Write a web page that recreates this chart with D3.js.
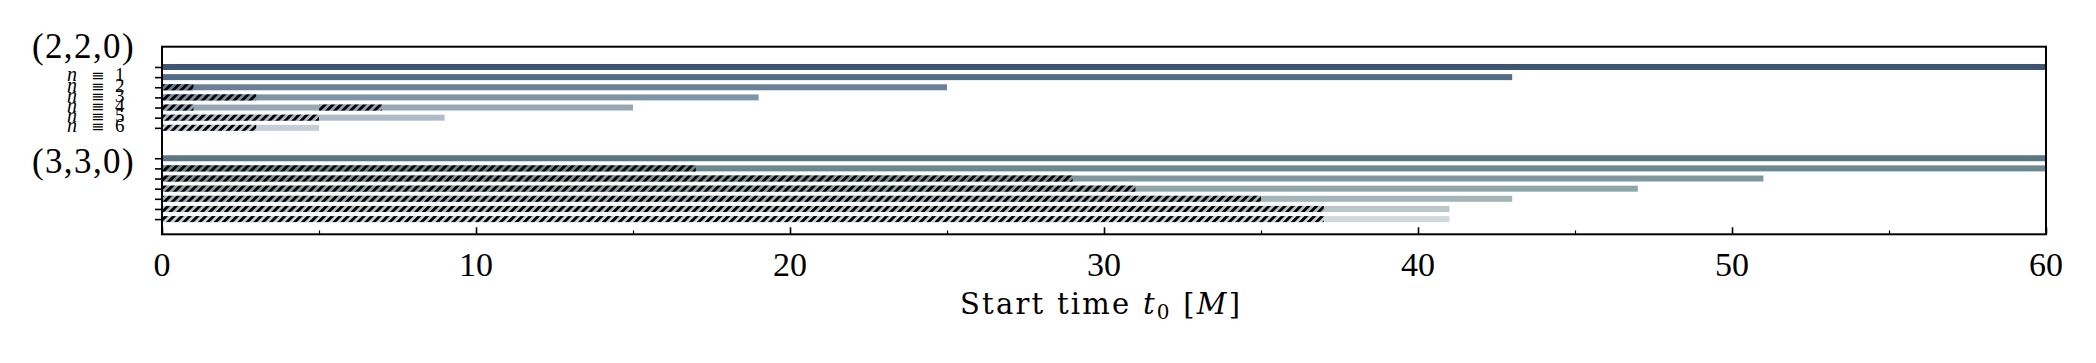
<!DOCTYPE html>
<html>
<head>
<meta charset="utf-8">
<script src="https://cdn.jsdelivr.net/npm/d3@7"></script>
<style>
  html, body { margin: 0; padding: 0; background: #ffffff; }
  svg { display: block; }
</style>
</head>
<body>
<svg id="chart" width="2096" height="363"></svg>
<script>
// ---------------- data ----------------
const groupLabels = ["(2,2,0)", "(3,3,0)"];
const groupLabelPos = [-2, 9.36];
const rowPositions = [0, 1, 2, 3, 4, 5, 6, 9, 10, 11, 12, 13, 14, 15];
const rowNumbers = [null, 1, 2, 3, 4, 5, 6, null, null, null, null, null, null, null];
const barEnds = [60, 43, 25, 19, 15, 9, 5, 60, 60, 51, 47, 43, 41, 41];
const hatchSegments = [
  [], [], [[0, 1]], [[0, 3]], [[0, 1], [5, 7]], [[0, 5]], [[0, 3]],
  [], [[0, 17]], [[0, 29]], [[0, 31]], [[0, 35]], [[0, 37]], [[0, 37]]
];
const rowColors = [
  "#3d5570", "#546d87", "#6a8197", "#8094a7", "#98a7b6", "#afbbc7", "#c5ced7",
  "#5b7783", "#6c8891", "#7f979f", "#90a5ab", "#a4b4b8", "#bac6c9", "#d0d9da"
];
const xTicks = [0, 10, 20, 30, 40, 50, 60];
const xMinorTicks = [5, 15, 25, 35, 45, 55];
const xLabel = "Start time";

// ---------------- layout ----------------
const svg = d3.select("#chart");
const L = 162, R = 2046, T = 46.7, B = 234.3;
const x = d3.scaleLinear().domain([0, 60]).range([L, R]);
const y = d3.scaleLinear().domain([-2, 16.5]).range([T, B]);
const barH = 6;
const serif = "'Liberation Serif', 'DejaVu Serif', serif";

const defs = svg.append("defs");
const pat = defs.append("pattern")
  .attr("id", "hatch")
  .attr("patternUnits", "userSpaceOnUse")
  .attr("width", 5.6).attr("height", 5.6)
  .attr("patternTransform", "rotate(45)");
pat.append("rect").attr("x", 0).attr("y", 0).attr("width", 2.9).attr("height", 5.6).attr("fill", "#000");

defs.append("clipPath").attr("id", "plotclip")
  .append("rect").attr("x", L).attr("y", T).attr("width", R - L).attr("height", B - T);

const plot = svg.append("g").attr("clip-path", "url(#plotclip)");

const rows = rowPositions.map((p, i) => ({ p, i, end: barEnds[i], color: rowColors[i], hatch: hatchSegments[i] }));

// solid bars
plot.selectAll("rect.bar").data(rows).enter().append("rect")
  .attr("class", "bar")
  .attr("x", d => x(0))
  .attr("y", d => y(d.p) - barH / 2)
  .attr("width", d => x(d.end) - x(0))
  .attr("height", barH)
  .attr("fill", d => d.color);

// hatched segments
const segs = [];
rows.forEach(d => d.hatch.forEach(s => segs.push({ p: d.p, a: s[0], b: s[1], color: d.color })));
plot.selectAll("rect.hatchbg").data(segs).enter().append("rect")
  .attr("x", d => x(d.a))
  .attr("y", d => y(d.p) - barH / 2)
  .attr("width", d => x(d.b) - x(d.a))
  .attr("height", barH)
  .attr("fill", d => d.color);
plot.selectAll("rect.hatch").data(segs).enter().append("rect")
  .attr("x", d => x(d.a))
  .attr("y", d => y(d.p) - barH / 2)
  .attr("width", d => x(d.b) - x(d.a))
  .attr("height", barH)
  .attr("fill", "url(#hatch)");

// ---------------- axes ----------------
const xAxis = d3.axisBottom(x).tickValues(xTicks).tickSizeInner(-7).tickSizeOuter(0).tickPadding(0).tickFormat("");
const gx = svg.append("g").attr("transform", `translate(0,${B})`).call(xAxis);
gx.select(".domain").remove();
gx.selectAll(".tick line").attr("stroke", "#000").attr("stroke-width", 1.6);
const xAxisMinor = d3.axisBottom(x).tickValues(xMinorTicks).tickSizeInner(-3.8).tickSizeOuter(0).tickFormat("");
const gxm = svg.append("g").attr("transform", `translate(0,${B})`).call(xAxisMinor);
gxm.select(".domain").remove();
gxm.selectAll(".tick line").attr("stroke", "#000").attr("stroke-width", 1.2);

// x tick labels
svg.append("g").selectAll("text").data(xTicks).enter().append("text")
  .attr("x", d => x(d))
  .attr("y", 275.5)
  .attr("text-anchor", "middle")
  .attr("font-family", serif)
  .attr("font-size", 34)
  .attr("fill", "#000")
  .text(d => d);

// y ticks (outward)
const yAxis = d3.axisLeft(y).tickValues(rowPositions).tickSizeInner(7).tickSizeOuter(0).tickFormat("");
const gy = svg.append("g").attr("transform", `translate(${L},0)`).call(yAxis);
gy.select(".domain").remove();
gy.selectAll(".tick line").attr("stroke", "#000").attr("stroke-width", 1.6);

// row labels n ≡ k
const nRows = rows.filter(d => rowNumbers[d.i] !== null);
const nl = svg.append("g");
nl.selectAll("text.n").data(nRows).enter().append("text")
  .attr("x", 67).attr("y", d => y(d.p) + 4.3)
  .attr("font-family", serif).attr("font-style", "italic").attr("font-size", 20)
  .text("n");
nl.selectAll("text.eq").data(nRows).enter().append("text")
  .attr("x", 91).attr("y", d => y(d.p) + 4.3)
  .attr("font-family", "'DejaVu Serif', serif").attr("font-size", 16)
  .text("\u2261");
nl.selectAll("text.k").data(nRows).enter().append("text")
  .attr("x", 115).attr("y", d => y(d.p) + 4.3)
  .attr("font-family", serif).attr("font-size", 19)
  .text(d => rowNumbers[d.i]);

// group labels
svg.append("g").selectAll("text").data(groupLabels).enter().append("text")
  .attr("x", 135)
  .attr("y", (d, i) => y(groupLabelPos[i]) + 11.6)
  .attr("text-anchor", "end")
  .attr("font-family", serif)
  .attr("font-size", 35)
  .attr("letter-spacing", 1.4)
  .text(d => d);

// frame
svg.append("rect")
  .attr("x", L).attr("y", T).attr("width", R - L).attr("height", B - T)
  .attr("fill", "none").attr("stroke", "#000").attr("stroke-width", 2);

// x label
const xl = svg.append("text")
  .attr("x", 960).attr("y", 313.8)
  .attr("text-anchor", "start")
  .attr("font-family", "'DejaVu Serif', serif").attr("font-size", 29);
xl.append("tspan").text(xLabel + " ");
xl.append("tspan").attr("font-style", "italic").text("t");
xl.append("tspan").attr("font-size", 20).attr("dy", 5).text("0");
xl.append("tspan").attr("dy", -5).text(" [");
xl.append("tspan").attr("font-style", "italic").text("M");
xl.append("tspan").text("]");
// adjust spacing to match the reference label width
const targetW = 280;
const w0 = xl.node().getComputedTextLength();
const nChars = (xLabel + " t0 [M]").length;
xl.attr("letter-spacing", Math.max(-1, Math.min(3, (targetW - w0) / (nChars - 1))));
</script>
</body>
</html>
